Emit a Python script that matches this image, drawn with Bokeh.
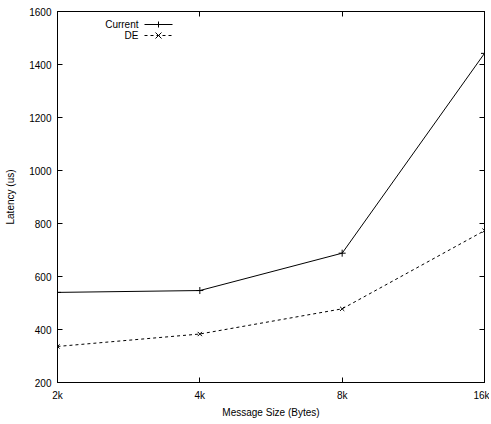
from bokeh.plotting import figure
from bokeh.models import (FixedTicker, LinearAxis, LogAxis, Label, Arrow,
                          ColumnDataSource, Range1d)
from bokeh.embed import file_html
from bokeh.resources import INLINE

# ---- data ----
msg_sizes = [2048, 4096, 8192, 16384]
size_labels = ["2k", "4k", "8k", "16k"]
current = [540, 547, 688, 1442]
de = [336, 383, 478, 773]
y_ticks = [200, 400, 600, 800, 1000, 1200, 1400, 1600]
series_names = ["Current", "DE"]

FONT = "Liberation Sans"
FS = "10px"

p = figure(width=489, height=420, x_axis_type="log",
           x_range=Range1d(2048, 16384), y_range=Range1d(200, 1600),
           output_backend="svg", toolbar_location=None,
           min_border_left=57, min_border_right=5, min_border_top=11,
           min_border_bottom=36)
p.grid.visible = False
p.outline_line_color = "black"
p.outline_line_width = 1
p.background_fill_color = "white"
p.border_fill_color = "white"

xt = FixedTicker(ticks=msg_sizes, minor_ticks=[])
yt = FixedTicker(ticks=y_ticks, minor_ticks=[])
overrides = {v: l for v, l in zip(msg_sizes, size_labels)}

def style(ax):
    ax.major_tick_in = 5
    ax.major_tick_out = 0
    ax.minor_tick_in = 0
    ax.minor_tick_out = 0
    ax.axis_line_color = "black"
    ax.major_tick_line_color = "black"
    ax.major_label_text_font = FONT
    ax.major_label_text_font_size = FS
    ax.major_label_text_color = "black"
    ax.axis_label_text_font = FONT
    ax.axis_label_text_font_size = FS
    ax.axis_label_text_font_style = "normal"
    ax.axis_label_text_color = "black"

xa = p.xaxis[0]
xa.ticker = xt
xa.major_label_overrides = overrides
xa.axis_label = "Message Size (Bytes)"
style(xa)
xa.major_label_standoff = 7
xa.axis_label_standoff = 3

ya = p.yaxis[0]
ya.ticker = yt
ya.axis_label = "Latency (us)"
style(ya)
ya.major_label_standoff = 6
ya.axis_label_standoff = 10

# mirrored ticks on top and right
top = LogAxis(ticker=FixedTicker(ticks=msg_sizes, minor_ticks=[]),
              major_label_overrides={v: "" for v in msg_sizes})
style(top)
top.major_label_standoff = 0
top.major_label_text_font_size = "0px"
p.add_layout(top, "above")

right = LinearAxis(ticker=FixedTicker(ticks=y_ticks, minor_ticks=[]),
                   major_label_overrides={v: "" for v in y_ticks})
style(right)
right.major_label_standoff = 0
right.major_label_text_font_size = "0px"
p.add_layout(right, "right")

src = ColumnDataSource(dict(x=msg_sizes, cur=current, de=de))
p.line("x", "cur", source=src, line_color="black", line_width=1)
p.scatter("x", "cur", source=src, marker="cross", size=7,
          line_color="black", line_width=1)
p.line("x", "de", source=src, line_color="black", line_width=1,
       line_dash="3 3")
p.scatter("x", "de", source=src, marker="x", size=6,
          line_color="black", line_width=1)

# ---- manual gnuplot-style legend (label left, sample right) ----
leg_rows = [(series_names[0], 358, None, "cross"),
            (series_names[1], 347, "3 3", "x")]
for name, yy, dash, mk in leg_rows:
    p.add_layout(Label(x=81, y=yy, x_units="screen", y_units="screen",
                       text=name, text_align="right", text_baseline="middle",
                       text_font=FONT, text_font_size=FS, text_color="black"))
    p.add_layout(Arrow(x_start=87, y_start=yy, x_end=115, y_end=yy,
                       start_units="screen", end_units="screen",
                       start=None, end=None, line_color="black",
                       line_width=1, line_dash=dash if dash else "solid"))
    if mk == "cross":
        segs = [(101, yy - 3, 101, yy + 3)]
    else:
        segs = [(98, yy - 3, 104, yy + 3), (98, yy + 3, 104, yy - 3)]
    for xs, ys, xe, ye in segs:
        p.add_layout(Arrow(x_start=xs, y_start=ys, x_end=xe, y_end=ye,
                           start_units="screen", end_units="screen",
                           start=None, end=None, line_color="black",
                           line_width=1))

open("out.html", "w").write(file_html(p, INLINE))
